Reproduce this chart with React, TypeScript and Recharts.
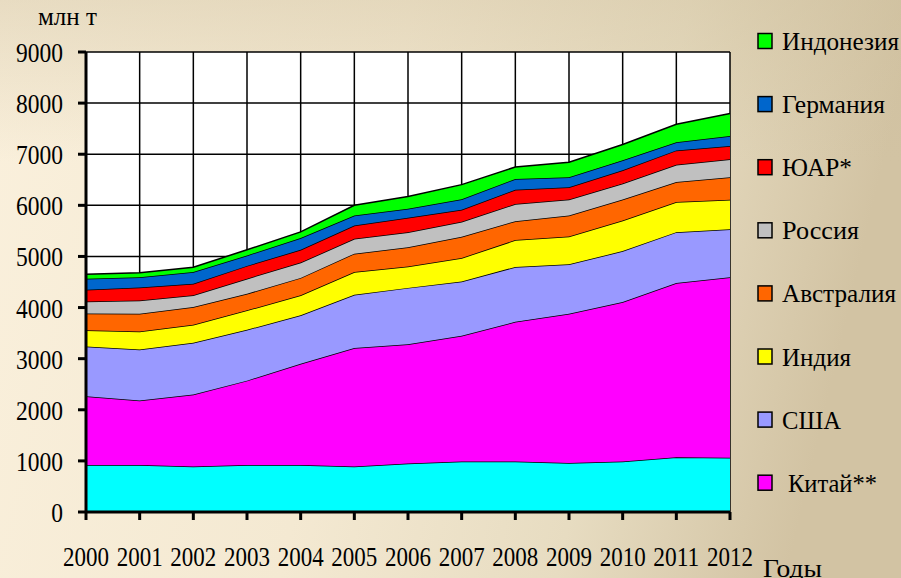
import React from "react";
import { AreaChart, Area, XAxis, YAxis, CartesianGrid } from "recharts";

const years = ["2000","2001","2002","2003","2004","2005","2006","2007","2008","2009","2010","2011","2012"];
const others = [920, 920, 890, 920, 920, 890, 950, 990, 990, 960, 990, 1070, 1060];
const china = [1345, 1260, 1410, 1650, 1980, 2320, 2330, 2460, 2730, 2920, 3120, 3410, 3535];
const usa = [975, 1000, 1010, 995, 950, 1040, 1105, 1060, 1075, 965, 995, 995, 935];
const india = [315, 350, 355, 380, 390, 445, 420, 460, 525, 545, 600, 590, 580];
const australia = [330, 350, 345, 325, 340, 360, 375, 415, 370, 410, 410, 390, 440];
const russia = [235, 260, 230, 295, 300, 290, 295, 295, 335, 315, 310, 340, 350];
const southAfrica = [230, 250, 225, 250, 250, 260, 280, 235, 280, 240, 260, 280, 260];
const germany = [215, 205, 230, 205, 230, 195, 180, 205, 210, 195, 195, 160, 195];
const indonesia = [85, 85, 95, 110, 120, 200, 240, 285, 235, 295, 310, 350, 440];
const yTicks = [0, 1000, 2000, 3000, 4000, 5000, 6000, 7000, 8000, 9000];

const series = [
  { key: "others", name: "Прочие", color: "#00ffff", values: others, legend: false, w: 0 },
  { key: "china", name: "Китай**", color: "#ff00ff", values: china, legend: true, w: 89 },
  { key: "usa", name: "США", color: "#9999ff", values: usa, legend: true, w: 59 },
  { key: "india", name: "Индия", color: "#ffff00", values: india, legend: true, w: 69 },
  { key: "australia", name: "Австралия", color: "#ff6600", values: australia, legend: true, w: 114 },
  { key: "russia", name: "Россия", color: "#c0c0c0", values: russia, legend: true, w: 77 },
  { key: "sa", name: "ЮАР*", color: "#ff0000", values: southAfrica, legend: true, w: 70 },
  { key: "germany", name: "Германия", color: "#0066cc", values: germany, legend: true, w: 103 },
  { key: "indonesia", name: "Индонезия", color: "#00ff00", values: indonesia, legend: true, w: 117 },
];

const data = years.map((y, i) => {
  const row: Record<string, number | string> = { year: y };
  series.forEach((s) => (row[s.key] = s.values[i]));
  return row;
});

const FONT = "Liberation Serif, Times New Roman, serif";

const YTick = (props: any) => {
  const { x, y, payload } = props;
  const w = String(payload.value).length * 11.75;
  return (
    <text
      x={x - w}
      y={y + 10}
      fontFamily={FONT}
      fontSize={27}
      fill="#000"
      textLength={w}
      lengthAdjust="spacingAndGlyphs"
    >
      {payload.value}
    </text>
  );
};

const XTick = (props: any) => {
  const { x, y, payload } = props;
  return (
    <text
      x={x - 23}
      y={y + 46}
      fontFamily={FONT}
      fontSize={27}
      fill="#000"
      textLength={46}
      lengthAdjust="spacingAndGlyphs"
    >
      {payload.value}
    </text>
  );
};

export default function App() {
  const legendItems = series.filter((s) => s.legend).slice().reverse();
  return (
    <div style={{ position: "absolute", left: 0, top: 0, width: 901, height: 578, overflow: "hidden" }}>
      <svg width={901} height={578} style={{ position: "absolute", left: 0, top: 0 }}>
        <defs>
          <linearGradient id="bgH" x1="0" y1="0" x2="1" y2="0.15">
            <stop offset="0%" stopColor="#faf0dc" />
            <stop offset="45%" stopColor="#f4e9d2" />
            <stop offset="75%" stopColor="#e7dcc1" />
            <stop offset="100%" stopColor="#d2c3a3" />
          </linearGradient>
          <linearGradient id="bgV" x1="0" y1="0" x2="0" y2="1">
            <stop offset="0%" stopColor="#cdbe9b" stopOpacity={0.4} />
            <stop offset="28%" stopColor="#cdbe9b" stopOpacity={0} />
          </linearGradient>
        </defs>
        <rect x={0} y={0} width={901} height={578} fill="url(#bgH)" />
        <rect x={0} y={0} width={901} height={578} fill="url(#bgV)" />
      </svg>
      <div style={{ position: "absolute", left: 0, top: 0 }}>
        <AreaChart
          width={901}
          height={578}
          data={data}
          margin={{ top: 52, right: 171, bottom: 0, left: 0 }}
        >
          <CartesianGrid stroke="#000" strokeWidth={1.5} fill="#ffffff" fillOpacity={1} />
          <XAxis
            dataKey="year"
            height={66}
            interval={0}
            axisLine={{ stroke: "#000", strokeWidth: 3 }}
            tickLine={{ stroke: "#000", strokeWidth: 3 }}
            tickSize={8}
            tickMargin={0}
            tick={<XTick />}
          />
          <YAxis
            width={86}
            domain={[0, 9000]}
            ticks={yTicks}
            interval={0}
            axisLine={{ stroke: "#000", strokeWidth: 3 }}
            tickLine={{ stroke: "#000", strokeWidth: 3 }}
            tickSize={8}
            tickMargin={15}
            tick={<YTick />}
          />
          {series.map((s) => (
            <Area
              key={s.key}
              type="linear"
              dataKey={s.key}
              name={s.name}
              stackId="1"
              stroke="#000"
              strokeWidth={1.5}
              fill={s.color}
              fillOpacity={1}
              dot={false}
              activeDot={false}
              isAnimationActive={false}
            />
          ))}
        </AreaChart>
      </div>
      <svg width={901} height={578} style={{ position: "absolute", left: 0, top: 0, pointerEvents: "none" }}>
        <text x={38} y={25} fontFamily={FONT} fontSize={25} fill="#000" textLength={59} lengthAdjust="spacingAndGlyphs">млн т</text>
        <text x={763} y={577} fontFamily={FONT} fontSize={26} fill="#000" textLength={59} lengthAdjust="spacingAndGlyphs">Годы</text>
        {legendItems.map((s, i) => {
          const cy = 41 + i * 63.1;
          const tx = s.key === "china" ? 788 : 782;
          return (
            <g key={s.key}>
              <rect x={758} y={cy - 7.5} width={14} height={15} fill={s.color} stroke="#000" strokeWidth={1.5} />
              <text
                x={tx}
                y={cy + 9}
                fontFamily={FONT}
                fontSize={26}
                fill="#000"
                textLength={s.w}
                lengthAdjust="spacingAndGlyphs"
              >
                {s.name}
              </text>
            </g>
          );
        })}
      </svg>
    </div>
  );
}
